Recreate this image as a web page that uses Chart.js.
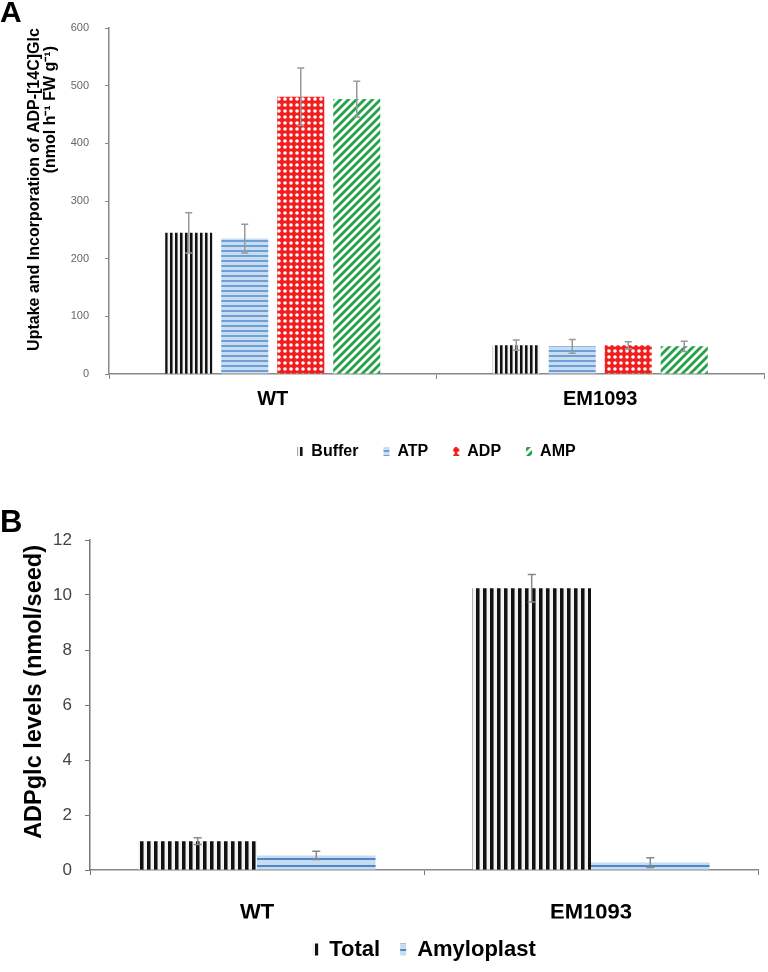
<!DOCTYPE html>
<html>
<head>
<meta charset="utf-8">
<script src="https://cdn.jsdelivr.net/npm/chart.js@4.4.1/dist/chart.umd.min.js"></script>
<style>
  html, body { margin: 0; padding: 0; background: #fff; }
  .panel { position: absolute; left: 0; width: 768px; }
  #wrapA { top: 0; height: 475px; }
  #wrapB { top: 480px; height: 492px; }
</style>
</head>
<body>
<div class="panel" id="wrapA"><canvas id="chartA" width="768" height="475"></canvas></div>
<div class="panel" id="wrapB"><canvas id="chartB" width="768" height="492"></canvas></div>
<script>
const categories = ['WT', 'EM1093'];

// panel A: uptake of ADP-[14C]Glc
const bufferVals = [245, 50];
const bufferErr = [35, 9];
const atpVals = [235, 48];
const atpErr = [25, 12];
const adpVals = [481, 50];
const adpErr = [50, 6];
const ampVals = [477, 48];
const ampErr = [31, 9];
const ticksA = { min: 0, max: 600, step: 100 };

// panel B: ADPglc levels
const totalVals = [1.05, 10.25];
const totalErr = [0.12, 0.5];
const amyloVals = [0.53, 0.27];
const amyloErr = [0.15, 0.18];
const ticksB = { min: 0, max: 12, step: 2 };

const FONT = "Arial, 'Liberation Sans', sans-serif";

function makePattern(w, h, draw) {
  const c = document.createElement('canvas');
  c.width = w; c.height = h;
  draw(c.getContext('2d'), w, h);
  return c.getContext('2d').createPattern(c, 'repeat');
}

const vStripe = (period, dark) => makePattern(period, 4, (g, w, h) => {
  g.fillStyle = '#f2f2f2'; g.fillRect(0, 0, w, h);
  g.fillStyle = '#111'; g.fillRect(0, 0, dark, h);
  g.fillStyle = '#777'; g.fillRect(dark, 0, 1, h);
});
const hStripe = (period, line, bg, fg) => makePattern(4, period, (g, w, h) => {
  g.fillStyle = bg; g.fillRect(0, 0, w, h);
  g.fillStyle = fg; g.fillRect(0, 0, w, line);
});
const dots = makePattern(6, 6, (g, w, h) => {
  g.fillStyle = '#f21d1d'; g.fillRect(0, 0, w, h);
  g.fillStyle = '#fff';
  g.beginPath(); g.arc(3, 3, 1.8, 0, Math.PI * 2); g.fill();
});
const diag = makePattern(8, 8, (g, w, h) => {
  g.fillStyle = '#fff'; g.fillRect(0, 0, w, h);
  g.strokeStyle = '#23a24a'; g.lineWidth = 2.8;
  g.beginPath();
  g.moveTo(-2, 10); g.lineTo(10, -2);
  g.moveTo(-6, 6); g.lineTo(6, -6);
  g.moveTo(2, 14); g.lineTo(14, 2);
  g.stroke();
});

const errorBars = {
  id: 'errorBars',
  afterDatasetsDraw(chart, args, opts) {
    const ctx = chart.ctx;
    const y = chart.scales.y;
    chart.data.datasets.forEach((ds, i) => {
      const meta = chart.getDatasetMeta(i);
      meta.data.forEach((bar, j) => {
        const v = ds.data[j], e = ds.err[j];
        const top = y.getPixelForValue(v + e);
        const bot = y.getPixelForValue(Math.max(0, v - e));
        ctx.save();
        ctx.strokeStyle = opts.color;
        ctx.lineWidth = opts.width;
        ctx.beginPath();
        ctx.moveTo(bar.x, top); ctx.lineTo(bar.x, bot);
        ctx.moveTo(bar.x - opts.cap, top); ctx.lineTo(bar.x + opts.cap, top);
        ctx.moveTo(bar.x - opts.cap, bot); ctx.lineTo(bar.x + opts.cap, bot);
        ctx.stroke();
        ctx.restore();
      });
    });
  }
};

function bars(label, data, err, fill) {
  return { label, data, err, backgroundColor: fill, borderWidth: 0, borderColor: 'rgba(0,0,0,0)' };
}

new Chart(document.getElementById('chartA'), {
  type: 'bar',
  plugins: [errorBars],
  data: {
    labels: categories,
    datasets: [
      bars('Buffer', bufferVals, bufferErr, vStripe(5, 2)),
      bars('ATP', atpVals, atpErr, hStripe(5, 2, '#cadcf1', '#6c9fd6')),
      bars('ADP', adpVals, adpErr, dots),
      bars('AMP', ampVals, ampErr, diag)
    ]
  },
  options: {
    responsive: false,
    animation: false,
    categoryPercentage: 0.684,
    barPercentage: 0.84,
    layout: { padding: { top: 0, right: 4, bottom: 5.5, left: 0 } },
    scales: {
      x: {
        afterFit: s => { s.height = 44.5; },
        grid: { drawOnChartArea: false, tickLength: 5, color: '#888' },
        border: { color: '#888', width: 1.5 },
        ticks: { padding: 8, color: '#000', font: { family: FONT, size: 20, weight: 'bold' } }
      },
      y: {
        min: ticksA.min, max: ticksA.max,
        afterFit: s => { s.width = 109; },
        grid: { drawOnChartArea: false, tickLength: 4, color: '#888' },
        border: { color: '#888', width: 1.5 },
        ticks: { stepSize: ticksA.step, padding: 16, color: '#666', font: { family: FONT, size: 11 } },
        title: {
          display: true,
          text: ['Uptake and Incorporation of ADP-[14C]Glc', '(nmol h\u207B\u00B9 FW g\u207B\u00B9)    '],
          align: 'end',
          color: '#000',
          padding: { top: 27, bottom: 0 },
          font: { family: FONT, size: 16, weight: 'bold', lineHeight: 1 }
        }
      }
    },
    plugins: {
      title: {
        display: true, text: 'A', align: 'start', color: '#000',
        padding: { top: 0, bottom: 0 },
        font: { family: FONT, size: 30, weight: 'bold', lineHeight: 0.94 }
      },
      legend: {
        position: 'bottom', fullSize: false,
        labels: { boxWidth: 6, boxHeight: 9, padding: 25, color: '#000', font: { family: FONT, size: 16, weight: 'bold' } }
      },
      tooltip: { enabled: false },
      errorBars: { color: '#999', width: 1.5, cap: 3.5 }
    }
  }
});

new Chart(document.getElementById('chartB'), {
  type: 'bar',
  plugins: [errorBars],
  data: {
    labels: categories,
    datasets: [
      bars('Total', totalVals, totalErr, vStripe(7, 3)),
      bars('Amyloplast', amyloVals, amyloErr, hStripe(7, 2, '#c8dcf1', '#4e86c7'))
    ]
  },
  options: {
    responsive: false,
    animation: false,
    categoryPercentage: 0.71,
    barPercentage: 1.0,
    layout: { padding: { top: 0, right: 10, bottom: 1.5, left: 0 } },
    scales: {
      x: {
        afterFit: s => { s.height = 48.5; },
        grid: { drawOnChartArea: false, tickLength: 5, color: '#777' },
        border: { color: '#888', width: 1.5 },
        ticks: { padding: 25, color: '#000', font: { family: FONT, size: 22, weight: 'bold' } }
      },
      y: {
        min: ticksB.min, max: ticksB.max,
        afterFit: s => { s.width = 90; },
        grid: { drawOnChartArea: false, tickLength: 5, color: '#777' },
        border: { color: '#777', width: 1.5 },
        ticks: { stepSize: ticksB.step, padding: 13, color: '#444', font: { family: FONT, size: 17 } },
        title: {
          display: true,
          text: '    ADPglc levels (nmol/seed)',
          color: '#000',
          padding: { top: 20, bottom: 0 },
          font: { family: FONT, size: 23.5, weight: 'bold' }
        }
      }
    },
    plugins: {
      title: {
        display: true, text: 'B', align: 'start', color: '#000',
        padding: { top: 27.5, bottom: 1.5 },
        font: { family: FONT, size: 31, weight: 'bold', lineHeight: 1 }
      },
      legend: {
        position: 'bottom', fullSize: false,
        labels: { boxWidth: 6, boxHeight: 12, padding: 20, color: '#000', font: { family: FONT, size: 22, weight: 'bold' } }
      },
      tooltip: { enabled: false },
      errorBars: { color: '#888', width: 1.5, cap: 4 }
    }
  }
});
</script>
</body>
</html>
